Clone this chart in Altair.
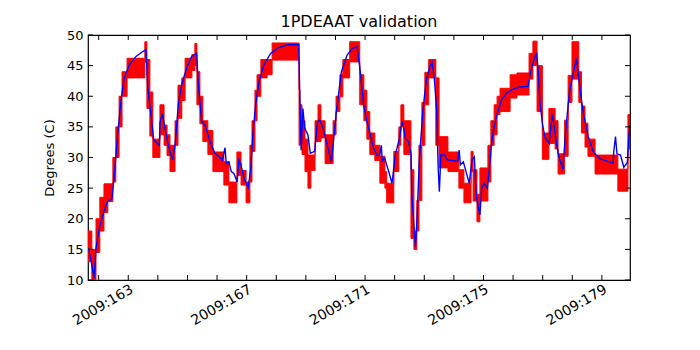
import altair as alt
import pandas as pd

# ---- telemetry (red): step segments, start day-of-year, low / high of the ringing band
red_day = [161.64, 161.77, 161.91, 162.04, 162.18, 162.31, 162.48, 162.58, 162.69, 162.79,
           162.96, 163.56, 163.63, 163.73, 163.83, 164.07, 164.21, 164.31, 164.41, 164.58,
           164.68, 164.81, 164.92, 165.15, 165.25, 165.32, 165.42, 165.52, 165.69, 165.86,
           166.23, 166.40, 166.67, 166.81, 166.98, 167.11, 167.18, 167.28, 167.35, 167.48,
           167.69, 167.86, 168.77, 168.80, 168.87, 168.97, 169.07, 169.17, 169.31, 169.41,
           169.51, 169.65, 169.92, 170.02, 170.15, 170.25, 170.48, 170.82, 170.96, 171.06,
           171.16, 171.33, 171.50, 171.67, 171.73, 171.97, 172.14, 172.21, 172.31, 172.55,
           172.65, 172.75, 172.82, 172.92, 173.02, 173.15, 173.39, 173.50, 173.80, 174.17,
           174.34, 174.58, 174.65, 174.78, 174.88, 175.15, 175.25, 175.36, 175.46, 175.56,
           175.90, 176.13, 176.54, 176.67, 176.81, 176.99, 177.21, 177.42, 177.52, 177.74,
           177.86, 177.99, 178.22, 178.31, 178.43, 178.53, 178.77, 179.54, 179.88, 179.95]
red_lo = [13, 10, 14.5, 18, 21, 22.8, 26, 30, 35, 40,
          43, 45.5, 38, 33.5, 30, 33.7, 32, 30.3, 27.7, 32,
          36.4, 39.3, 43, 44.2, 45, 38.6, 35.5, 32.6, 30.5, 27.7,
          25.5, 22.6, 27.1, 25.5, 22.6, 26, 31, 36, 40, 43,
          43.5, 45.9, 32, 32, 30.5, 27.7, 25, 27.9, 32.6, 32.6,
          33.2, 29, 33.7, 37.5, 39.9, 43, 45.6, 38.6, 36, 33,
          30.5, 29.5, 25.8, 25, 22.6, 27.7, 32, 35, 30.5, 16.8,
          15, 18, 23, 32, 38.6, 43, 32, 28.3, 27.7, 25,
          22.6, 27.7, 22.9, 19.5, 22.9, 26, 32, 33.7, 37, 37.5,
          39.7, 40.2, 42.8, 45, 37.5, 29.7, 32.3, 31.4, 27.3, 30.2,
          39, 42.8, 39, 34, 31.7, 30.2, 27.3, 24.5, 31.4, 31.4]
red_hi = [18, 15, 20, 23.5, 25.7, 25.7, 30, 35, 40, 44,
          46.2, 48.9, 46, 40.7, 33, 38.6, 35.3, 33.7, 32, 36,
          41.8, 43, 46.2, 46.8, 48.6, 44, 40, 36, 34.4, 30.9,
          29.3, 26, 30.9, 27.9, 26, 32, 36, 41, 43.5, 46,
          46, 48.7, 41, 38.6, 36, 33, 30.4, 30.4, 36, 38.6,
          36, 33.7, 36, 40, 43.5, 46, 48.9, 43.5, 41, 37.5,
          34, 32, 30.2, 27.7, 25.8, 31, 35, 38.6, 36, 28,
          18, 23, 32, 39, 43.9, 46, 43, 33.4, 30.9, 28,
          25.8, 31, 28, 24, 28.3, 32, 36, 38.6, 40, 41.3,
          43.5, 43.8, 47, 49, 45, 34, 38, 36, 30.6, 36.1,
          43.4, 48.9, 44, 38.4, 35.6, 33, 30.4, 28.1, 37, 37]

# ---- model (blue)
blue_day = [161.66, 161.85, 161.91, 162.02, 162.19, 162.30, 162.45, 162.53, 162.64, 162.75,
            162.86, 163.03, 163.26, 163.49, 163.60, 163.66, 163.77, 163.86, 163.94, 164.05,
            164.07, 164.15, 164.24, 164.35, 164.50, 164.58, 164.69, 164.80, 164.97, 165.14,
            165.31, 165.36, 165.48, 165.59, 165.76, 165.93, 166.10, 166.18, 166.27, 166.31,
            166.40, 166.48, 166.57, 166.68, 166.74, 166.80, 166.91, 167.05, 167.14, 167.21,
            167.30, 167.42, 167.58, 167.81, 168.06, 168.40, 168.76, 168.79, 168.84, 168.90,
            168.96, 169.07, 169.15, 169.30, 169.39, 169.47, 169.58, 169.75, 169.86, 169.92,
            170.03, 170.20, 170.39, 170.56, 170.73, 170.84, 170.95, 171.06, 171.18, 171.29,
            171.40, 171.49, 171.55, 171.58, 171.66, 171.80, 171.91, 172.02, 172.16, 172.25,
            172.30, 172.36, 172.47, 172.55, 172.58, 172.70, 172.75, 172.83, 172.95, 173.06,
            173.17, 173.26, 173.34, 173.42, 173.47, 173.51, 173.56, 173.68, 173.79, 174.13,
            174.18, 174.22, 174.32, 174.41, 174.52, 174.61, 174.69, 174.76, 174.88, 174.94,
            175.02, 175.13, 175.20, 175.28, 175.35, 175.45, 175.61, 175.78, 176.01, 176.23,
            176.51, 176.57, 176.68, 176.80, 176.85, 176.91, 176.99, 177.07, 177.22, 177.28,
            177.33, 177.42, 177.53, 177.68, 177.79, 177.91, 178.02, 178.14, 178.25, 178.37,
            178.54, 178.71, 178.93, 179.17, 179.38, 179.40, 179.46, 179.51, 179.63, 179.74,
            179.86, 179.91, 179.95]
blue_deg = [15.2, 10.3, 15.2, 18.5, 21.4, 22.8, 23.3, 27.1, 33.7, 39.1,
            42.9, 45.1, 46.5, 47.3, 47.6, 41.3, 36.9, 32.9, 32.5, 32.0,
            35.6, 37.2, 34.8, 32.0, 29.6, 32.0, 38.6, 41.8, 44.6, 46.5,
            47.0, 42.4, 35.9, 35.3, 32.6, 30.7, 30.0, 29.6, 31.6, 29.0,
            29.3, 27.7, 27.4, 26.0, 29.6, 29.0, 26.6, 25.1, 28.2, 33.7,
            38.6, 42.4, 45.1, 47.0, 47.9, 48.4, 48.4, 41.3, 31.2, 38.0,
            34.8, 33.7, 30.7, 31.0, 35.8, 36.1, 34.8, 31.5, 29.3, 32.0,
            37.5, 44.0, 46.7, 47.8, 48.1, 44.0, 38.6, 35.9, 33.7, 31.5,
            30.4, 30.3, 32.0, 29.4, 29.9, 27.7, 25.8, 30.4, 33.1, 35.9,
            35.0, 33.1, 32.6, 30.7, 23.9, 15.4, 19.5, 29.3, 37.5, 42.4,
            44.6, 45.6, 42.9, 37.5, 28.2, 24.4, 30.4, 30.4, 29.6, 29.4,
            31.2, 28.8, 29.3, 27.7, 25.8, 29.6, 30.1, 23.5, 20.6, 25.0,
            25.8, 25.0, 28.2, 32.6, 34.8, 36.9, 39.4, 40.5, 41.2, 41.5,
            41.6, 43.5, 45.6, 47.1, 43.9, 38.9, 35.6, 33.4, 32.3, 35.3,
            37.0, 33.9, 30.4, 28.1, 35.1, 40.9, 43.4, 46.2, 41.7, 37.3,
            33.4, 30.9, 29.8, 29.4, 29.1, 30.9, 33.4, 30.6, 30.4, 28.4,
            29.2, 33.4, 35.3]

major_days = [163, 167, 171, 175, 179]
minor_days = list(range(162, 180))
y_ticks = [10, 15, 20, 25, 30, 35, 40, 45, 50]

W, H = 542, 245
FONT = "DejaVu Sans"

red_df = pd.DataFrame({"day": red_day, "lo": red_lo, "hi": red_hi})
blue_df = pd.DataFrame({"day": blue_day, "deg": blue_deg})
xmin_df = pd.DataFrame({"day": minor_days})
ymaj_df = pd.DataFrame({"deg": y_ticks})

x_scale = alt.Scale(domain=[161.64, 179.95], nice=False, zero=False)
y_scale = alt.Scale(domain=[10, 50], nice=False, zero=False)

x_axis = alt.Axis(values=major_days, labelExpr="'2009:' + datum.value",
                  labelAngle=-30, labelAlign="right", labelBaseline="top",
                  tickSize=0, domain=False, grid=False, labelFont=FONT,
                  labelFontSize=14, labelColor="black", labelPadding=2,
                  labelFlush=False, labelOverlap=False)
y_axis = alt.Axis(values=y_ticks, tickSize=0, domain=False, grid=False,
                  labelFont=FONT, labelFontSize=13, labelColor="black",
                  labelPadding=5, titleFont=FONT, titleFontSize=13,
                  titleFontWeight="normal", titleColor="black", titlePadding=10,
                  labelFlush=False)

X = lambda f: alt.X(f, type="quantitative", scale=x_scale, axis=x_axis, title=None)
Y = lambda f: alt.Y(f, type="quantitative", scale=y_scale, axis=y_axis, title="Degrees (C)")

red = alt.Chart(red_df).mark_area(
    color="#ff0000", interpolate="step-after", clip=True,
    stroke="#ff0000", strokeWidth=1, opacity=1
).encode(x=X("day"), y=Y("lo"), y2="hi:Q")

blue = alt.Chart(blue_df).mark_line(color="#0000ff", strokeWidth=1.4, clip=True).encode(
    x=X("day"), y=Y("deg"))

tick_bottom = alt.Chart(xmin_df).mark_rule(color="black", strokeWidth=1).encode(
    x=X("day"), y=alt.value(H), y2=alt.value(H - 5))
tick_top = alt.Chart(xmin_df).mark_rule(color="black", strokeWidth=1).encode(
    x=X("day"), y=alt.value(0), y2=alt.value(5))
tick_left = alt.Chart(ymaj_df).mark_rule(color="black", strokeWidth=1).encode(
    y=Y("deg"), x=alt.value(0), x2=alt.value(5))
tick_right = alt.Chart(ymaj_df).mark_rule(color="black", strokeWidth=1).encode(
    y=Y("deg"), x=alt.value(W), x2=alt.value(W - 5))

chart = alt.layer(red, blue, tick_bottom, tick_top, tick_left, tick_right).properties(
    width=W, height=H,
    title=alt.TitleParams("1PDEAAT validation", font=FONT, fontSize=16,
                          fontWeight="normal", color="black", anchor="middle", offset=-1),
    autosize=alt.AutoSizeParams(type="none"),
    padding={"left": 80, "top": 27, "right": 60, "bottom": 60},
).configure_view(stroke="black", strokeWidth=1.2)

chart.save("out.html", embed_options={"renderer": "svg", "actions": False})
